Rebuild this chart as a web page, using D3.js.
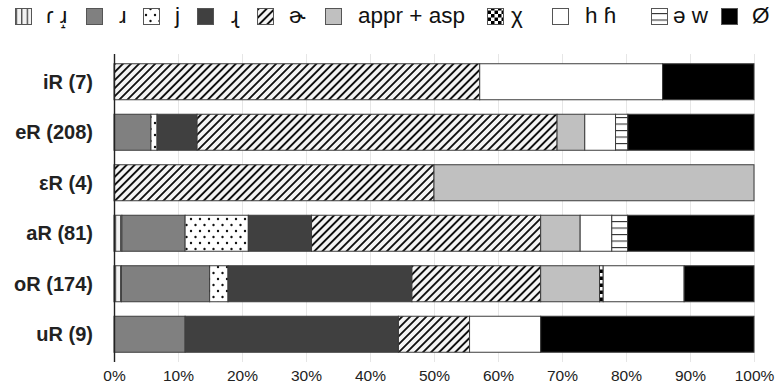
<!DOCTYPE html>
<html>
<head>
<meta charset="utf-8">
<script src="https://cdn.jsdelivr.net/npm/d3@7"></script>
<style>
  html, body { margin: 0; padding: 0; background: #fff; }
  svg { display: block; font-family: "Liberation Sans", Arial, Helvetica, sans-serif; }
</style>
</head>
<body>
<svg id="chart" width="777" height="384"></svg>
<script>
// Vowel contexts (token counts in brackets)
const categories = ["iR (7)", "eR (208)", "εR (4)", "aR (81)", "oR (174)", "uR (9)"];

// Realisation variants, stacked left to right
const variants = ["ɾ ɹ̝", "ɹ", "j", "ɻ", "ɚ", "appr + asp", "χ", "h ɦ", "ə w", "Ø"];

// Token counts per variant, one value per context (same order as categories)
const tapApprox  = [0,   0, 0,  1,  2, 0];
const approx     = [0,  12, 0,  8, 24, 1];
const glide      = [0,   2, 0,  8,  5, 0];
const retroflex  = [0,  13, 0,  8, 50, 3];
const rhotic     = [4, 117, 2, 29, 35, 1];
const apprAsp    = [0,   9, 2,  5, 16, 0];
const uvularFric = [0,   0, 0,  0,  1, 0];
const glottal    = [2,  10, 0,  4, 22, 1];
const vocalised  = [0,   4, 0,  2,  0, 0];
const deleted    = [1,  41, 0, 16, 19, 3];

const seriesValues = [tapApprox, approx, glide, retroflex, rhotic, apprAsp, uvularFric, glottal, vocalised, deleted];

const tickValues = [0, 10, 20, 30, 40, 50, 60, 70, 80, 90, 100];

// ---- build table of percentages ----
const rows = categories.map((c, i) => {
  const total = d3.sum(seriesValues, s => s[i]);
  const row = { category: c };
  variants.forEach((v, k) => { row[v] = seriesValues[k][i] / total * 100; });
  return row;
});
const stacked = d3.stack().keys(variants)(rows);

const svg = d3.select("#chart");
const defs = svg.append("defs");

// fills: plain greys or SVG patterns
function pattern(id, w, h, draw, transform, xoff) {
  const p = defs.append("pattern").attr("id", id)
    .attr("patternUnits", "userSpaceOnUse").attr("width", w).attr("height", h)
    .attr("x", xoff || 0);
  if (transform) p.attr("patternTransform", transform);
  draw(p);
  return `url(#${id})`;
}
const fillVLines = pattern("p-vlines", 5.5, 10, p => {
  p.append("rect").attr("width", 5.5).attr("height", 10).attr("fill", "#f2f2f2");
  p.append("rect").attr("x", 0).attr("width", 1.2).attr("height", 10).attr("fill", "#333");
}, null, 4.7);
const fillDots = pattern("p-dots", 9, 12, p => {
  p.append("rect").attr("width", 9).attr("height", 12).attr("fill", "#fff");
  p.append("circle").attr("cx", 2).attr("cy", 3).attr("r", 1.2).attr("fill", "#111");
  p.append("circle").attr("cx", 6.5).attr("cy", 9).attr("r", 1.2).attr("fill", "#111");
});
const fillHatch = pattern("p-hatch", 5.7, 10, p => {
  p.append("rect").attr("width", 5.7).attr("height", 10).attr("fill", "#f4f4f4");
  p.append("rect").attr("x", 0).attr("width", 1.9).attr("height", 10).attr("fill", "#111");
}, "rotate(45)");
const fillChecker = pattern("p-check", 7, 7, p => {
  p.append("rect").attr("width", 7).attr("height", 7).attr("fill", "#fff");
  p.append("rect").attr("width", 3.5).attr("height", 3.5).attr("fill", "#000");
  p.append("rect").attr("x", 3.5).attr("y", 3.5).attr("width", 3.5).attr("height", 3.5).attr("fill", "#000");
}, null, 1);
const fillHLines = pattern("p-hlines", 10, 6.5, p => {
  p.append("rect").attr("width", 10).attr("height", 6.5).attr("fill", "#fff");
  p.append("rect").attr("y", 0).attr("width", 10).attr("height", 1.1).attr("fill", "#333");
});

const fills = [fillVLines, "#808080", fillDots, "#404040", fillHatch, "#c0c0c0", fillChecker, "#ffffff", fillHLines, "#000000"];
const color = d3.scaleOrdinal().domain(variants).range(fills);

// ---- scales ----
const x = d3.scaleLinear().domain([0, 100]).range([114, 754]);
const y = d3.scaleBand().domain(categories).range([54, 362])
  .paddingInner(0.287).paddingOuter(0.193);

// grid
svg.append("g").selectAll("line").data(tickValues.slice(1)).join("line")
  .attr("x1", d => Math.round(x(d)) + 0.5).attr("x2", d => Math.round(x(d)) + 0.5)
  .attr("y1", 54).attr("y2", 362)
  .attr("stroke", "#e6e6e6").attr("stroke-width", 1);

// bars
svg.append("g").selectAll("g").data(stacked).join("g")
  .attr("fill", d => color(d.key))
  .selectAll("rect").data(d => d.filter(s => s[1] - s[0] > 0)).join("rect")
  .attr("x", d => x(d[0]))
  .attr("width", d => x(d[1]) - x(d[0]))
  .attr("y", d => y(d.data.category))
  .attr("height", y.bandwidth())
  .attr("stroke", "#3c3c3c").attr("stroke-width", 1);

// category axis
const yAxis = svg.append("g").attr("transform", "translate(114,0)");
yAxis.append("line").attr("x1", 0.5).attr("x2", 0.5).attr("y1", 54).attr("y2", 362)
  .attr("stroke", "#222").attr("stroke-width", 1.4);
yAxis.selectAll("text").data(categories).join("text")
  .attr("x", -21).attr("y", d => y(d) + y.bandwidth() / 2)
  .attr("dy", "0.36em").attr("text-anchor", "end")
  .attr("font-size", 20).attr("font-weight", "bold").attr("fill", "#222")
  .text(d => d);

// percentage axis
const xAxis = svg.append("g").attr("transform", "translate(0,362)")
  .call(d3.axisBottom(x).tickValues(tickValues).tickFormat(d => d + "%").tickSize(0).tickPadding(8));
xAxis.select(".domain").remove();
xAxis.selectAll("text").attr("font-size", 15.5).attr("fill", "#222")
  .attr("font-family", "'Liberation Sans', Arial, sans-serif");

// legend
const legendSwatchX = [15, 86, 143, 197, 257, 325, 487, 552, 651, 721];
const legendTextX   = [46, 119, 175, 231, 289, 358, 511, 585, 673, 752];
const legend = svg.append("g");
variants.forEach((v, k) => {
  legend.append("rect")
    .attr("x", legendSwatchX[k] + 0.5).attr("y", 8.5).attr("width", 16).attr("height", 16)
    .attr("fill", color(v)).attr("stroke", "#555").attr("stroke-width", 1);
  legend.append("text")
    .attr("x", legendTextX[k]).attr("y", 23)
    .attr("font-size", 22.5).attr("fill", "#111")
    .text(v);
});
</script>
</body>
</html>
